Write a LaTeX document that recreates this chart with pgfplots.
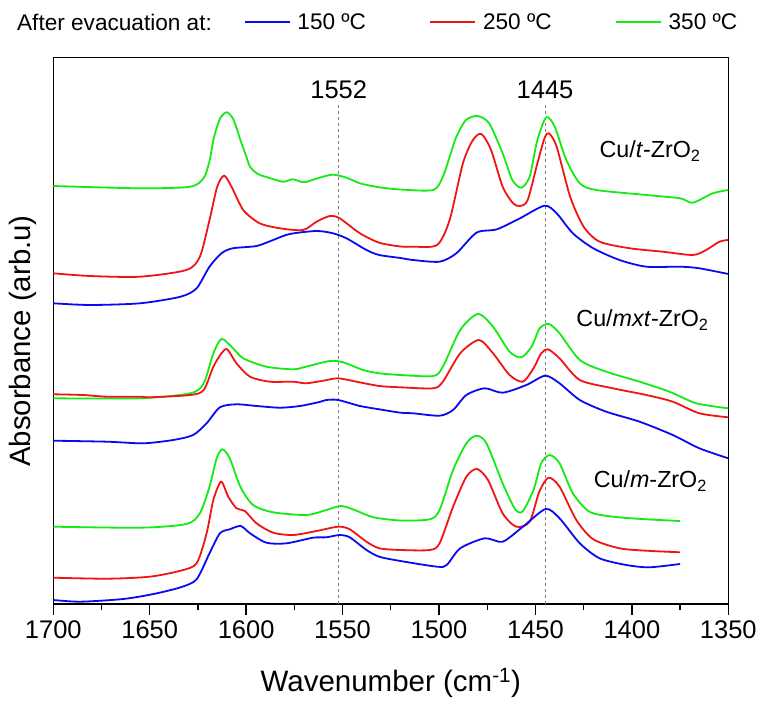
\documentclass[border=0pt]{standalone}
\usepackage{pgfplots}
\pgfplotsset{compat=1.18}
\usepackage{fontspec}
\setmainfont{Liberation Sans}
\definecolor{c150}{RGB}{10,10,240}
\definecolor{c250}{RGB}{240,20,20}
\definecolor{c350}{RGB}{20,235,20}
\pgfplotsset{spec/.style={line width=1.8bp, smooth, tension=0.45, forget plot}}
\begin{document}
\begin{tikzpicture}
\path[use as bounding box] (-53.3bp,-98bp) rectangle (708.7bp,604bp);
\begin{axis}[
  at={(0,0)}, anchor=south west,
  scale only axis, width=675bp, height=546.7bp,
  xmin=1350, xmax=1700, x dir=reverse,
  ymin=0, ymax=546.7,
  xtick={1350,1400,...,1700}, minor x tick num=1,
  ytick=\empty, xtick pos=left,
  tick align=outside, major tick length=11bp, minor tick length=5.5bp,
  every tick/.style={black, line width=1.3bp},
  axis line style={line width=1.5bp},
  /pgf/number format/assume math mode=true,
  /pgf/number format/set thousands separator={},
  xticklabel style={font=\fontsize{25.5bp}{30bp}\selectfont, yshift=-2bp},
  xlabel={Wavenumber (cm\textsuperscript{-1})},
  xlabel style={font=\fontsize{29.5bp}{34bp}\selectfont, at={(axis description cs:0.5,-0.1445)}, anchor=center},
  ylabel={Absorbance (arb.u)},
  ylabel style={font=\fontsize{29.4bp}{34bp}\selectfont, at={(axis description cs:-0.0456,0.481)}, anchor=center},
  legend columns=3,
  legend image code/.code={\draw[#1] (0bp,0bp) -- (45bp,0bp);},
  legend style={draw=none, fill=none, inner sep=0pt,
    at={(axis description cs:0.2815,1.0637)}, anchor=west,
    font=\fontsize{22.6bp}{27bp}\selectfont,
    nodes={inner sep=2bp},
    /tikz/every odd column/.append style={column sep=5bp},
    /tikz/every even column/.append style={column sep=61bp}},
  clip=false,
]
\addlegendimage{c150, line width=2bp}\addlegendentry{150 ºC}
\addlegendimage{c250, line width=2bp}\addlegendentry{250 ºC}
\addlegendimage{c350, line width=2bp}\addlegendentry{350 ºC}

% reference positions
\addplot[gray, dashed, line width=0.8bp, forget plot] coordinates {(1552,0) (1552,502)};
\addplot[gray, dashed, line width=0.8bp, forget plot] coordinates {(1445,0) (1445,502)};

% ---------- Cu/t-ZrO2 ----------
\addplot[c350, spec] coordinates {
(1700,418) (1655,415.7) (1629,417.3) (1622,426) (1619,443) (1617,464) (1615,478)
(1613,487.3) (1610,491.7) (1607,486) (1605,476) (1603,464) (1600,448) (1598,437.3)
(1594,430) (1589.5,427) (1581,422.3) (1576,424.7) (1572,422.5) (1569,422) (1562,426.3) (1555,429.3)
(1548,426.3) (1541,420.7) (1531,416.7) (1520,414.5) (1503,414) (1498,427.3)
(1494,450) (1491,467.3) (1486,484) (1480,488) (1474,480.7) (1467,450.7) (1462,424)
(1457.3,416.3) (1453,427.3) (1449,464) (1444.4,486.7) (1440,477.3) (1434,444)
(1427,420.7) (1418.5,414) (1392.5,409) (1375,405.7) (1368.4,401.3) (1358,410.7)
(1350,414)};
\addplot[c250, spec] coordinates {
(1700,330.7) (1681,328) (1655,327.3) (1631,334) (1624,347.3) (1619,384) (1615,417.3)
(1611.4,428.3) (1607.6,417.3) (1601.5,394) (1593,380.7) (1582.5,375.7) (1570.5,374)
(1563.5,382.3) (1556.6,388) (1551.5,385.7) (1541,370.7) (1531,361.3) (1520,357.5)
(1513.5,357.3) (1501,359) (1494.5,384) (1487.6,440.7) (1482.4,464) (1478,470)
(1473,454) (1467,417.3) (1461.6,400.7) (1458,398) (1454,404) (1449,440.7)
(1445.3,465.7) (1443,470.7) (1439,457.3) (1432,407.3) (1425,377.3) (1416.7,362.3)
(1401,355.7) (1384,352.3) (1368.4,349) (1361.5,354) (1354.6,362.3) (1350,364)};
\addplot[c150, spec] coordinates {
(1700,300.7) (1681,299) (1655,300.7) (1634,307.3) (1625.7,315.7) (1619,337.3)
(1612.8,350.7) (1607,355.7) (1594.6,358) (1586,364) (1577.4,370) (1563.5,373)
(1555,370.7) (1548,365.7) (1537.6,354) (1531,349) (1520,346) (1513.5,344)
(1499.7,342.3) (1491,350.7) (1480.6,371.3) (1470,374.7) (1458,385.7) (1445.3,398.3)
(1439,390.7) (1430.6,370.7) (1420,355.7) (1406.4,344) (1392.5,337.3) (1375,337.3)
(1365,335.7) (1350,330)};

% ---------- Cu/mxt-ZrO2 ----------
\addplot[c350, spec] coordinates {
(1700,205.7) (1655,205.7) (1629,210.7) (1622,220.7) (1617,250.7) (1612.8,265)
(1607.6,257.3) (1601.5,245.7) (1589.5,237.3) (1575.6,234.7) (1569,237.3)
(1556.6,243) (1549.7,241.7) (1539.4,234) (1531,230.7) (1520,229) (1503,228)
(1498,237.3) (1489,274) (1479.8,290) (1472,277.3) (1463.4,252.3) (1457.3,246.7)
(1452,257.3) (1447.8,275.7) (1443,280) (1437.5,270.7) (1427,244) (1413.3,232.3)
(1396,222.3) (1380.5,212.3) (1366.6,200.7) (1350,195.7)};
\addplot[c250, spec] coordinates {
(1700,209.7) (1684.7,209) (1672.3,207.3) (1655,207.3) (1650,206.7) (1629,209)
(1622,214) (1617,237.3) (1612.8,250.7) (1609.8,254.7) (1605,240.7) (1598,227.3)
(1587.7,222.3) (1575.6,222.3) (1569,220.7) (1560,223.3) (1552.3,225.7)
(1542.8,222.3) (1531,218) (1520,216.7) (1503,215.7) (1498,222.3) (1489,250.7)
(1479.3,264) (1472,250.7) (1463.4,229) (1456.5,222.3) (1451,235.7) (1447,250.7)
(1443.5,254.7) (1437.5,245.7) (1427,224) (1409.8,215.7) (1392.5,209)
(1378.8,202.3) (1365,190.7) (1350,186.7)};
\addplot[c150, spec] coordinates {
(1700,163.3) (1672,162.3) (1653.4,160.7) (1637.8,164) (1627.5,169) (1620.5,180.7)
(1613.6,196.7) (1605,199.7) (1594.6,198) (1582.5,196.3) (1572,198) (1562,202)
(1558.4,204) (1552.3,204) (1541,198) (1531,194.7) (1520,191.3) (1513.5,190.7)
(1499.7,188.3) (1492.7,194) (1485.8,209) (1476.3,215.7) (1467,211.3)
(1454.7,219) (1444.9,228.3) (1437.5,220.7) (1427,204) (1413.3,192.3)
(1396,182.3) (1378.8,169) (1365,155.7) (1350,145.7)};

% ---------- Cu/m-ZrO2 ----------
\addplot[c350, spec] coordinates {
(1700,77.3) (1655,76.3) (1631,80) (1624,90.7) (1619,117.3) (1615.3,145.7)
(1612.3,154.7) (1608.5,145.7) (1603,117.3) (1596.4,99) (1586,91.7) (1568.7,89)
(1558.4,94) (1550.6,98) (1542.8,93.3) (1534,86.7) (1520,83.5) (1504.8,84.7)
(1499.7,94) (1492.7,134) (1485.8,160.7) (1480.6,168.3) (1475.4,160.7)
(1467,120.7) (1460.8,95.7) (1456.8,92.3) (1451,114) (1447,140.7) (1442.6,149)
(1437.5,140.7) (1430.6,110.7) (1422,92.3) (1409.8,87.3) (1392.5,84.7) (1375,83)};
\addplot[c250, spec] coordinates {
(1700,26.3) (1672,25.3) (1650,27.3) (1634,33.3) (1625.7,40.7) (1620.5,70.7)
(1617,104) (1613,122.3) (1609.3,107.3) (1605,95.7) (1600.7,93) (1594.6,80.7)
(1586,71.3) (1575.6,69) (1563.5,73) (1552.3,77.3) (1546.3,74.7) (1537.6,62.3)
(1531,55.7) (1520,54) (1504.8,54) (1499.7,60.7) (1492.7,97.3) (1485.8,127.3)
(1480.3,135) (1474.6,124) (1467,90.7) (1460,77.3) (1453,82.3) (1448,112.3)
(1443.2,126.3) (1437.5,117.3) (1428.8,84) (1420,64.7) (1406.4,55.7)
(1392.5,53.3) (1375,51.7)};
\addplot[c150, spec] coordinates {
(1700,4) (1686,2.3) (1663.7,5) (1648,10) (1634,16.7) (1625.7,24.7) (1619,50.7)
(1613.6,70.7) (1608.5,74.7) (1602.8,78) (1598,70.7) (1589.5,61.3) (1579,60.7)
(1565.3,66.3) (1558.4,66.7) (1551.5,69) (1546.3,66.7) (1537.6,54) (1531,47.3)
(1520,43) (1501,37.3) (1496,39) (1489,55.7) (1476.3,65.7) (1467,62.3)
(1456.5,77.3) (1444.7,95) (1437.5,85.7) (1427,60.7) (1416.7,45.7) (1402.9,39)
(1391,36.7) (1375,40)};

% annotations
\node[anchor=base, font=\fontsize{25.5bp}{30bp}\selectfont] at (axis cs:1552,505) {1552};
\node[anchor=base, font=\fontsize{25.5bp}{30bp}\selectfont] at (axis cs:1445,505) {1445};
\node[anchor=base, font=\fontsize{23.3bp}{28bp}\selectfont] at (axis cs:1390.6,446) {Cu/\textit{t}-ZrO\textsubscript{2}};
\node[anchor=base, font=\fontsize{23.3bp}{28bp}\selectfont] at (axis cs:1394.5,277) {Cu/\textit{mxt}-ZrO\textsubscript{2}};
\node[anchor=base, font=\fontsize{23.3bp}{28bp}\selectfont] at (axis cs:1390.4,116) {Cu/\textit{m}-ZrO\textsubscript{2}};
\node[anchor=west, inner sep=0pt, font=\fontsize{22.6bp}{27bp}\selectfont] at (axis description cs:-0.0538,1.0637) {After evacuation at:};
\end{axis}
\end{tikzpicture}
\end{document}
